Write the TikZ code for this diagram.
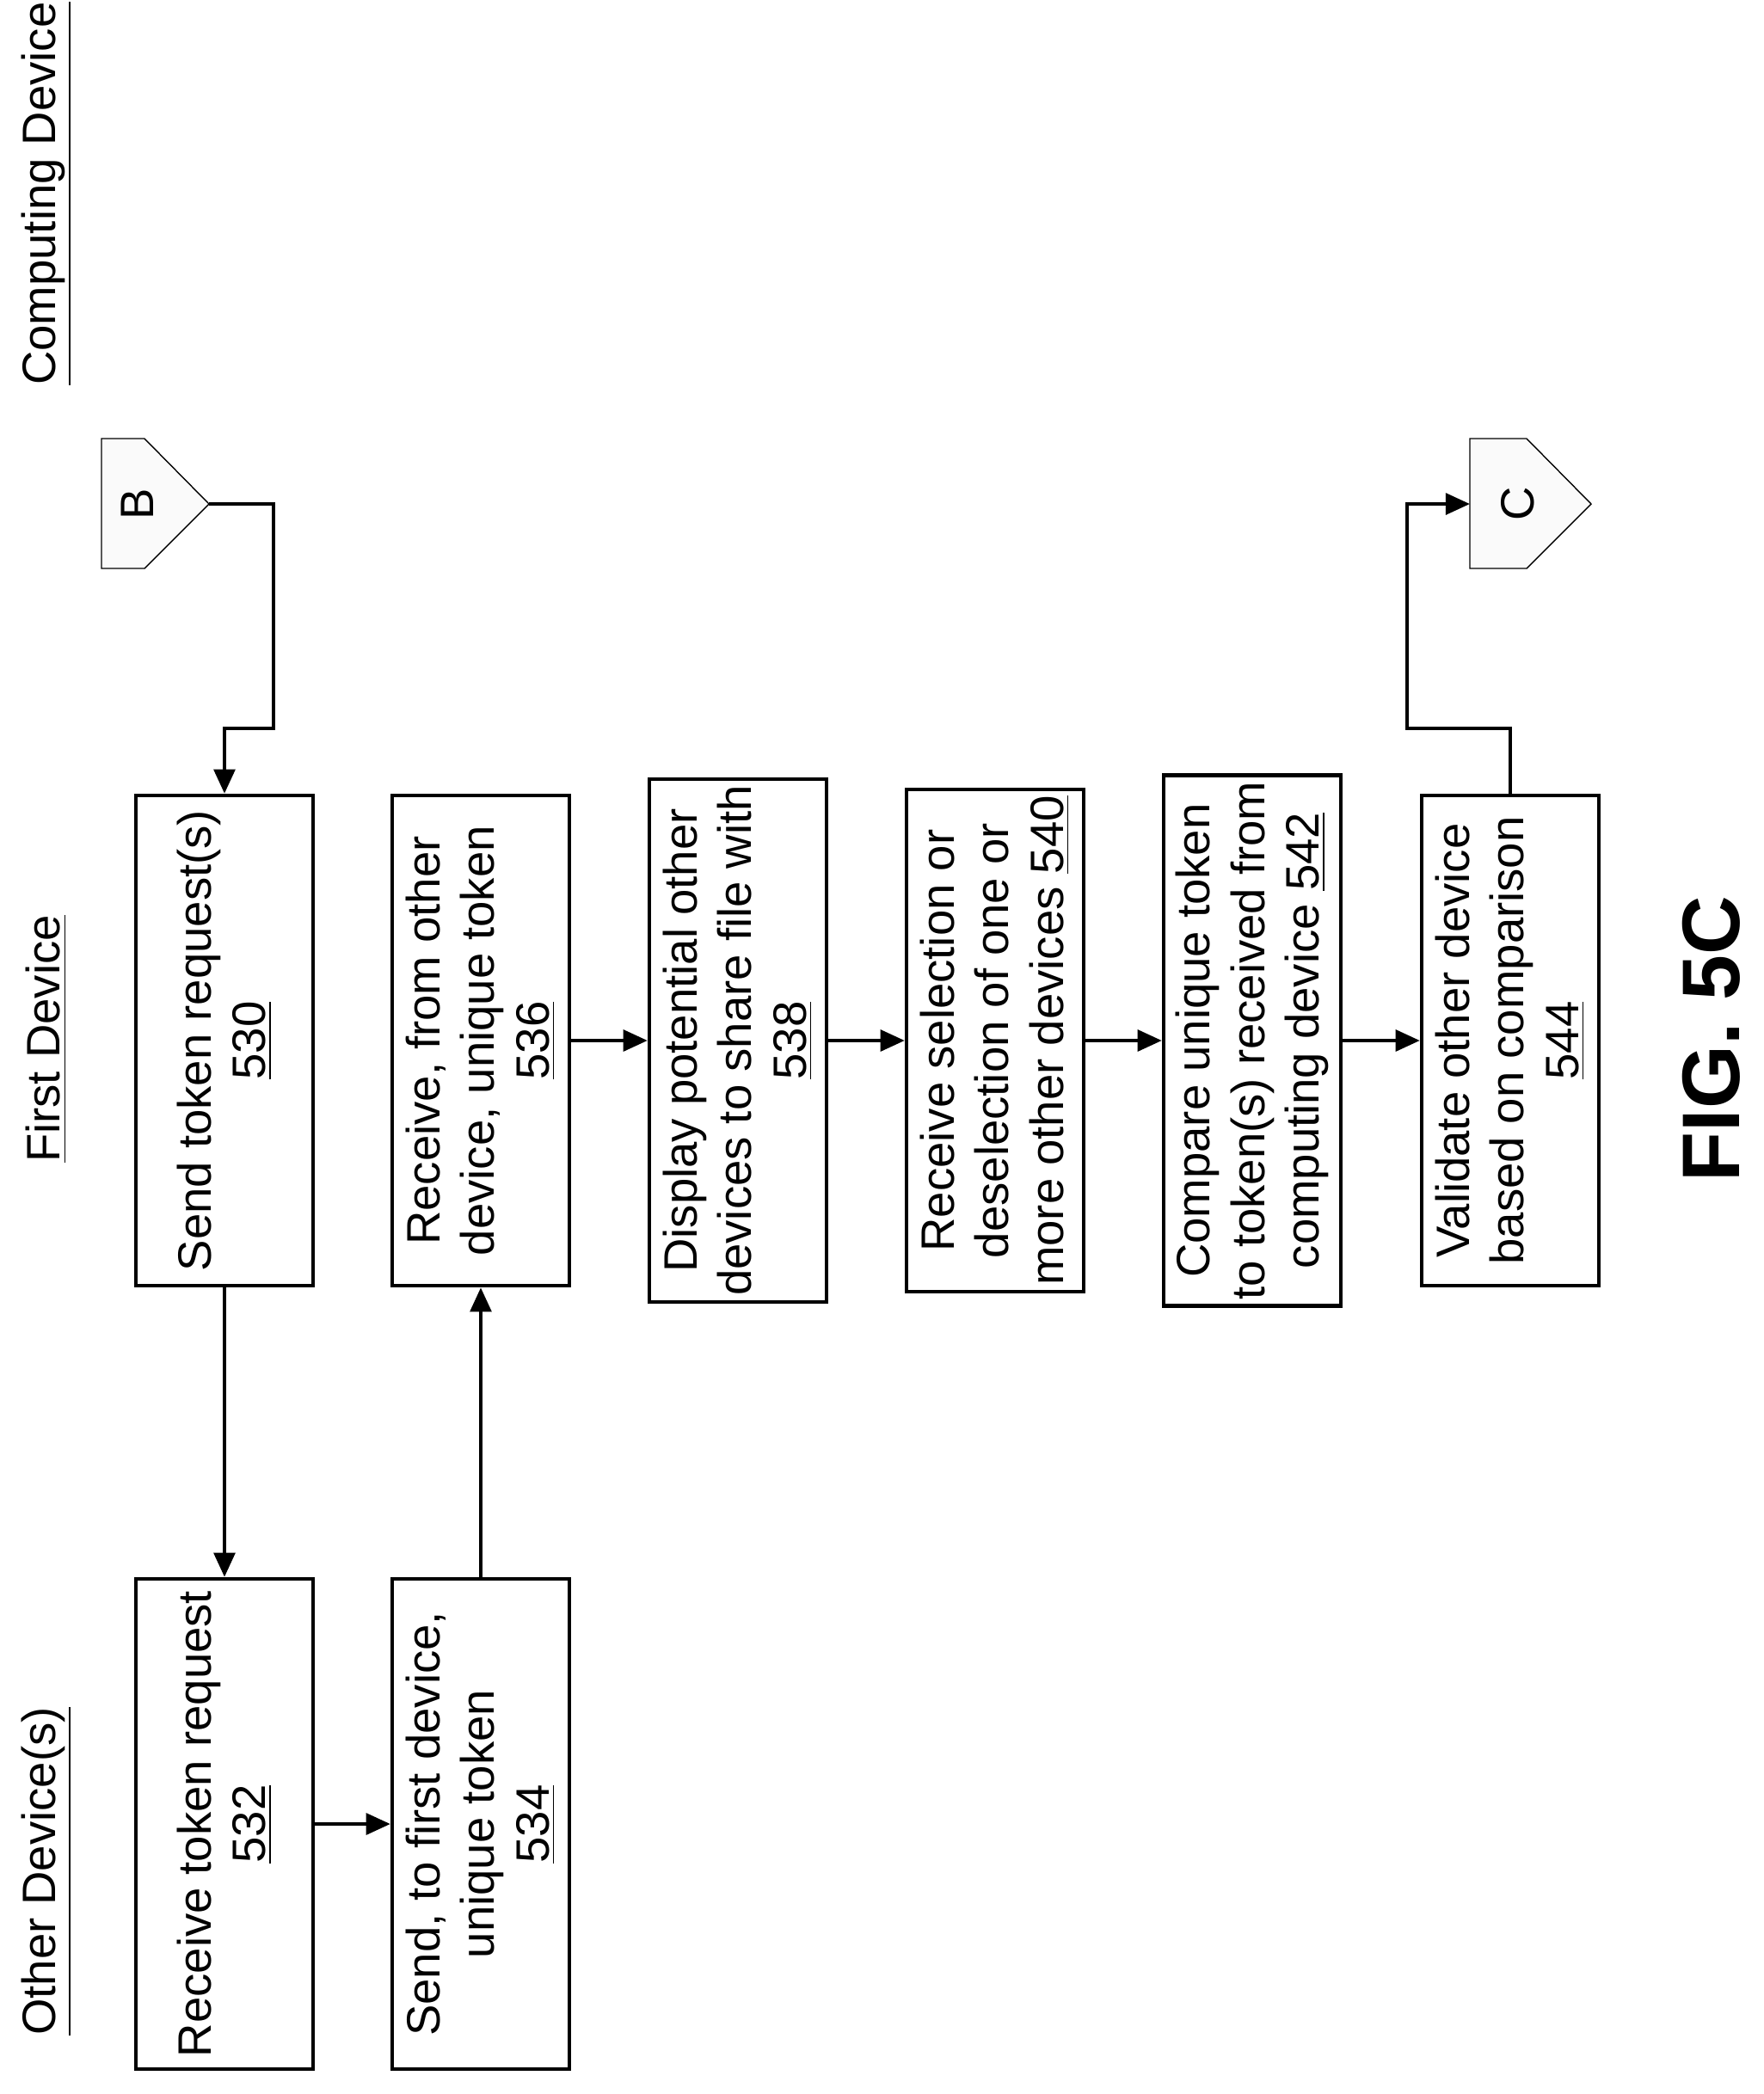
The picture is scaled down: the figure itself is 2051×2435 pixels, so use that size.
\documentclass[tikz,border=0pt]{standalone}
\usepackage{fontspec}
\setmainfont{Liberation Sans}
\usetikzlibrary{arrows.meta}
\tikzset{
    stepbox/.style={draw, line width=1.2pt, rotate=90, align=center,
        minimum width=5.7cm, minimum height=2.06cm, inner sep=2pt,
        font=\fontsize{15.5}{18}\selectfont},
    header/.style={rotate=90, font=\fontsize{15.5}{18}\selectfont},
    flow/.style={line width=1.2pt, -{Triangle[length=8pt, width=7pt]}},
    link/.style={line width=1.2pt},
    offpage/.style={draw, line width=0.4pt, fill=gray!4}
}
\begin{document}
\begin{tikzpicture}[x=0.01cm, y=-0.01cm]
    \useasboundingbox (0,0) rectangle (2051,2435);
    % Lane headers
    \node[header] (hcomp) at (54, 225) {\underline{Computing Device}};
    \node[header] (hfirst) at (54, 1208) {\underline{First Device}};
    \node[header] (hother) at (54, 2176) {\underline{Other Device(s)}};
    % First device steps
    \node[stepbox] (n530) at (261, 1210) {Send token request(s)\\\underline{530}};
    \node[stepbox] (n536) at (559, 1210) {Receive, from other\\device, unique token\\\underline{536}};
    \node[stepbox] (n538) at (858, 1210) {Display potential other\\devices to share file with\\\underline{538}};
    \node[stepbox] (n540) at (1157, 1210) {Receive selection or\\deselection of one or\\more other devices \underline{540}};
    \node[stepbox] (n542) at (1456, 1210) {Compare unique token\\to token(s) received from\\computing device \underline{542}};
    \node[stepbox] (n544) at (1756, 1210) {Validate other device\\based on comparison\\\underline{544}};
    % Other device steps
    \node[stepbox] (n532) at (261, 2121) {Receive token request\\\underline{532}};
    \node[stepbox] (n534) at (559, 2121) {Send, to first device,\\unique token\\\underline{534}};
    % Off-page connectors
    \draw[offpage] (118,510) -- (168,510) -- (243,586) -- (168,661) -- (118,661) -- cycle;
    \node[rotate=90, font=\fontsize{15.5}{18}\selectfont] (conB) at (160,586) {B};
    \coordinate (conBtip) at (243,586);
    \draw[offpage] (1709,510) -- (1775,510) -- (1850,586) -- (1775,661) -- (1709,661) -- cycle;
    \node[rotate=90, font=\fontsize{15.5}{18}\selectfont] (conC) at (1765,586) {C};
    \coordinate (conCtail) at (1709,586);
    % Connectors
    \draw[flow] (conBtip) -- (318,586) -- (318,847) -- (261,847) -- (n530.east);
    \draw[flow] (n530.west) -- (n532.east);
    \draw[flow] (n532.south) -- (n534.north);
    \draw[flow] (n534.east) -- (n536.west);
    \draw[flow] (n536.south) -- (n538.north);
    \draw[flow] (n538.south) -- (n540.north);
    \draw[flow] (n540.south) -- (n542.north);
    \draw[flow] (n542.south) -- (n544.north);
    \draw[flow] (n544.east) -- (1756,847) -- (1636,847) -- (1636,586) -- (conCtail);
    % Figure label
    \node[rotate=90, font=\bfseries\fontsize{27}{30}\selectfont] (fig) at (1990, 1208) {FIG. 5C};
\end{tikzpicture}
\end{document}
